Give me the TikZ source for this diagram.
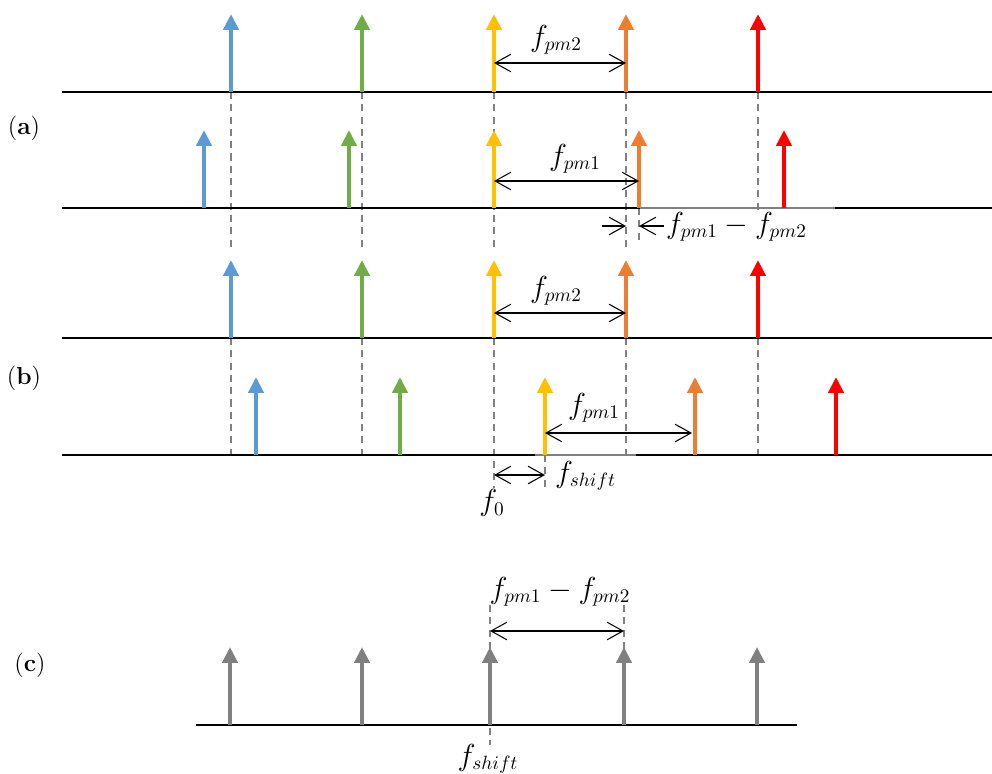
\documentclass[tikz,border=0pt]{standalone}
\usepackage{amsmath}
\usepackage{amssymb}
\usepackage{tikz}
\usetikzlibrary{arrows.meta}

\definecolor{cblue}{RGB}{91,155,213}
\definecolor{cgreen}{RGB}{112,173,71}
\definecolor{cyellow}{RGB}{255,192,0}
\definecolor{corange}{RGB}{237,125,49}
\definecolor{cred}{RGB}{255,0,0}
\definecolor{cgray}{RGB}{128,128,128}

\begin{document}
\begin{tikzpicture}
[x=0.02cm,y=-0.02cm,
 spike/.style={line width=2.8pt,-{Triangle[length=9pt,width=8.5pt]}},
 meas/.style={line width=0.6pt,{Straight Barb[length=9pt,width=10pt]}-{Straight Barb[length=9pt,width=10pt]}},
 halfmeas/.style={line width=0.6pt,-{Straight Barb[length=9pt,width=10pt]}},
 guide/.style={cgray,line width=1.1pt,dash pattern=on 4pt off 3pt},
 freqline/.style={line width=1.4pt},
 every node/.style={font=\fontsize{16}{19}\selectfont},
 panel/.style={font=\fontsize{14}{17}\selectfont},]
\useasboundingbox (0,0) rectangle (992,774);

%Baselines of the spectra
\def\ya{92}   %(a) upper
\def\yb{208}  %(a) lower
\def\yc{338}  %(b) upper
\def\yd{455}  %(b) lower
\def\ye{725}  %(c)
\def\h{78}    %spike height

%Dashed guides
\draw[guide] (231,\ya) -- (231,250);
\draw[guide] (362,\ya) -- (362,250);
\draw[guide] (494,\ya) -- (494,250);
\draw[guide] (626,\ya) -- (626,250);
\draw[guide] (758,\ya) -- (758,214);
\draw[guide] (639,\yb) -- (639,242);
\draw[guide] (231,\yc) -- (231,\yd);
\draw[guide] (362,\yc) -- (362,\yd);
\draw[guide] (494,\yc) -- (494,488);
\draw[guide] (626,\yc) -- (626,\yd);
\draw[guide] (758,\yc) -- (758,\yd);
\draw[guide] (545,\yd) -- (545,488);
\draw[guide] (490,605) -- (490,745);
\draw[guide] (624,605) -- (624,\ye);

%Frequency axes
\draw[freqline] (62,\ya) -- (992,\ya);
\draw[freqline] (62,\yb) -- (992,\yb);
\draw[freqline,cgray] (640,\yb) -- (835,\yb);
\draw[freqline] (62,\yc) -- (992,\yc);
\draw[freqline] (62,\yd) -- (992,\yd);
\draw[freqline,cgray] (535,\yd) -- (636,\yd);
\draw[freqline] (196,\ye) -- (797,\ye);

%Spikes (a)
\draw[spike,cblue]   (231,\ya) -- (231,\ya-\h);
\draw[spike,cgreen]  (362,\ya) -- (362,\ya-\h);
\draw[spike,cyellow] (494,\ya) -- (494,\ya-\h);
\draw[spike,corange] (626,\ya) -- (626,\ya-\h);
\draw[spike,cred]    (758,\ya) -- (758,\ya-\h);
\draw[spike,cblue]   (204,\yb) -- (204,\yb-\h);
\draw[spike,cgreen]  (349,\yb) -- (349,\yb-\h);
\draw[spike,cyellow] (494,\yb) -- (494,\yb-\h);
\draw[spike,corange] (639,\yb) -- (639,\yb-\h);
\draw[spike,cred]    (784,\yb) -- (784,\yb-\h);

%Spikes (b)
\draw[spike,cblue]   (231,\yc) -- (231,\yc-\h);
\draw[spike,cgreen]  (362,\yc) -- (362,\yc-\h);
\draw[spike,cyellow] (494,\yc) -- (494,\yc-\h);
\draw[spike,corange] (626,\yc) -- (626,\yc-\h);
\draw[spike,cred]    (758,\yc) -- (758,\yc-\h);
\draw[spike,cblue]   (256,\yd) -- (256,\yd-\h);
\draw[spike,cgreen]  (400,\yd) -- (400,\yd-\h);
\draw[spike,cyellow] (545,\yd) -- (545,\yd-\h);
\draw[spike,corange] (695,\yd) -- (695,\yd-\h);
\draw[spike,cred]    (836,\yd) -- (836,\yd-\h);

%Spikes (c)
\draw[spike,cgray] (230,\ye) -- (230,\ye-\h);
\draw[spike,cgray] (362,\ye) -- (362,\ye-\h);
\draw[spike,cgray] (490,\ye) -- (490,\ye-\h);
\draw[spike,cgray] (624,\ye) -- (624,\ye-\h);
\draw[spike,cgray] (757,\ye) -- (757,\ye-\h);

%Spacings
\draw[meas] (494,63) -- (626,63);
\draw[meas] (494,181) -- (639,181);
\draw[halfmeas] (602,226) -- (626,226);
\draw[halfmeas] (664,226) -- (639,226);
\draw[meas] (494,313) -- (626,313);
\draw[meas] (545,433) -- (692,433);
\draw[meas] (494,475) -- (545,475);
\draw[meas] (490,631) -- (624,631);

%Labels
\node (fA) at (556,40) {$f_{pm2}$};
\node (fB) at (575,159) {$f_{pm1}$};
\node[anchor=west] (dA) at (660,227) {$f_{pm1}-f_{pm2}$};
\node (fC) at (556,291) {$f_{pm2}$};
\node (fD) at (594,408) {$f_{pm1}$};
\node[anchor=west] (sB) at (549,476) {$f_{shift}$};
\node (f0) at (492,503) {$f_0$};
\node (dC) at (560,592) {$f_{pm1}-f_{pm2}$};
\node (sC) at (488,759) {$f_{shift}$};
\node[panel] (la) at (24,128) {(\textbf{a})};
\node[panel] (lb) at (24,378) {(\textbf{b})};
\node[panel] (lc) at (30,665) {(\textbf{c})};

\end{tikzpicture}
\end{document}
